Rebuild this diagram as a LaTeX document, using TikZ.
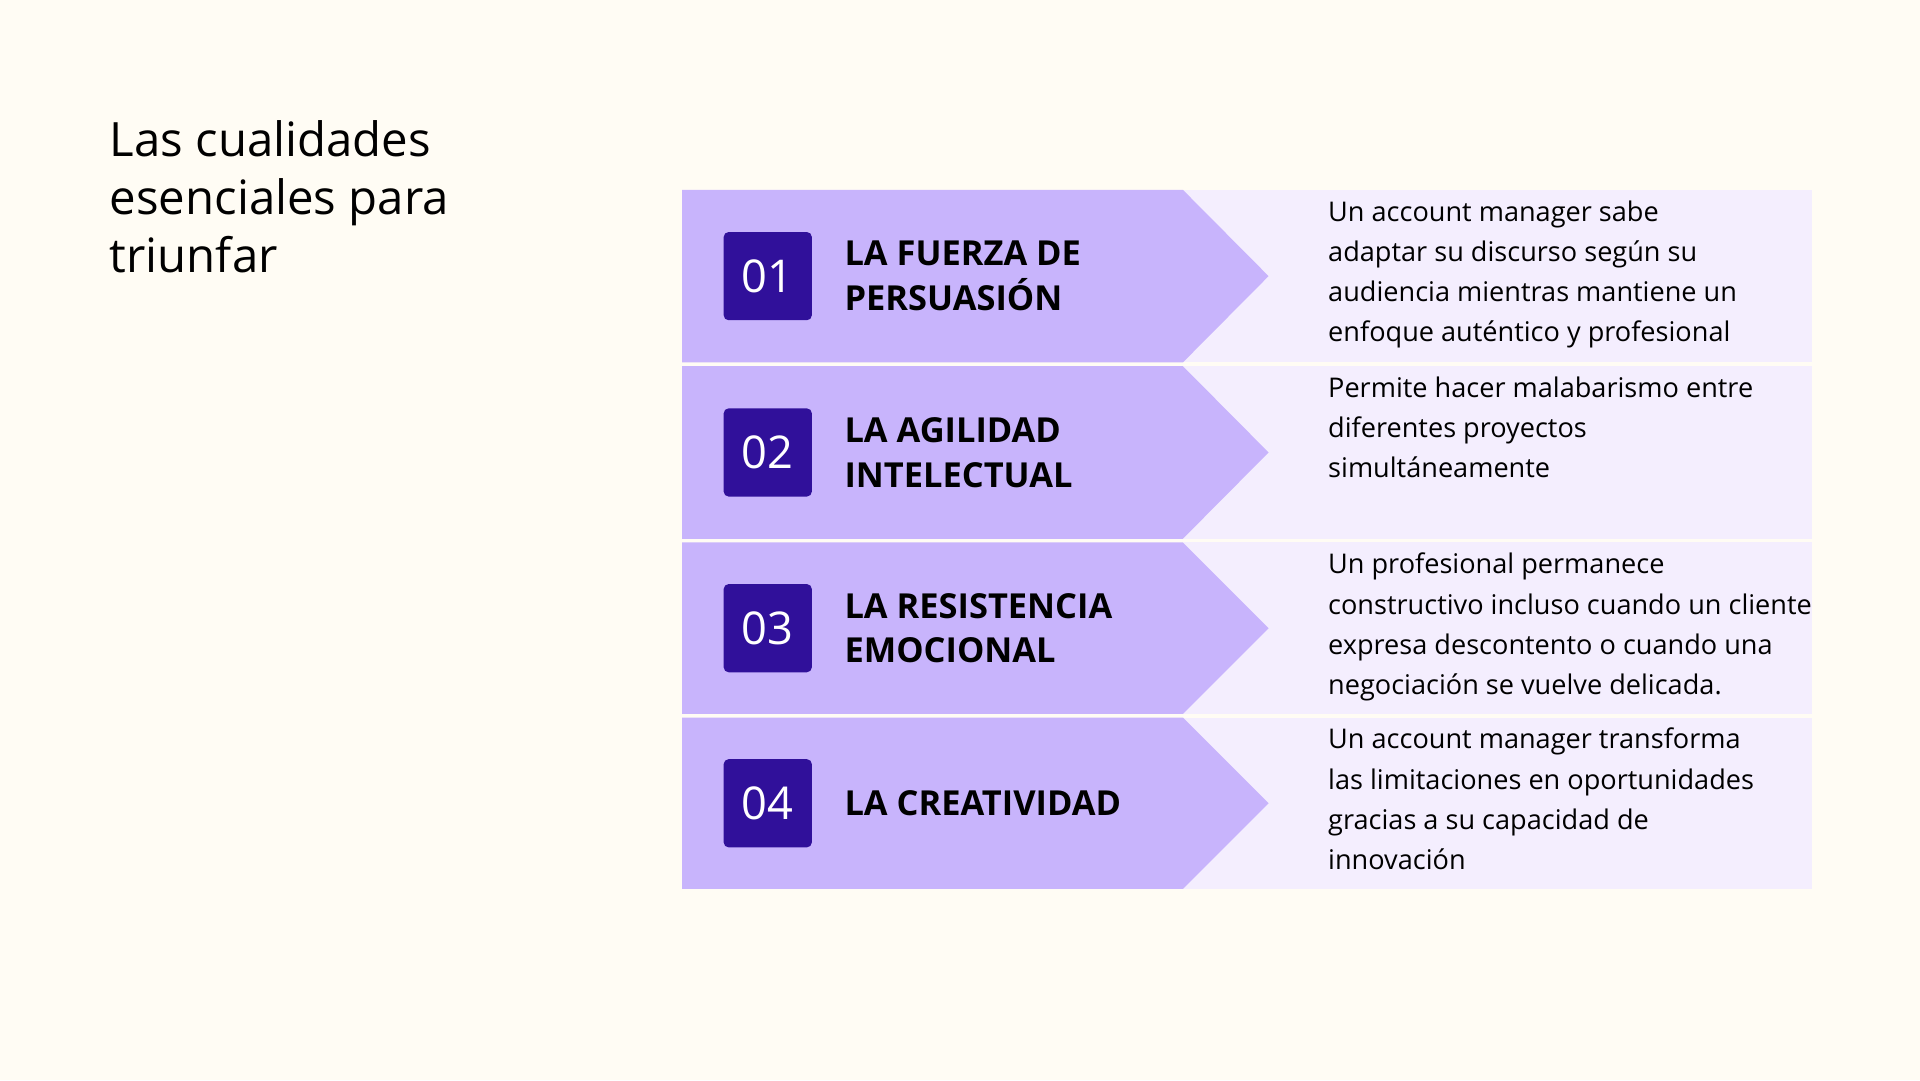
\documentclass[tikz,border=0pt]{standalone}
\usepackage{fontspec}
\setmainfont{Open Sans}
\usetikzlibrary{positioning}
\definecolor{pagebg}{HTML}{FFFCF4}
\definecolor{arrowfill}{HTML}{C8B4FC}
\definecolor{descfill}{HTML}{F4EEFE}
\definecolor{numfill}{HTML}{30109A}
\begin{document}
\begin{tikzpicture}[x=0.1mm,y=-0.1mm,
    numbox/.style={fill=numfill,rounded corners=0.4mm,minimum size=7.2mm,inner sep=0pt,
      text=white,font=\fontsize{10.5}{12}\selectfont},
    headline/.style={anchor=west,align=left,inner sep=0pt,font=\fontsize{8}{10.4}\selectfont\bfseries},
    desctext/.style={anchor=north west,align=left,inner sep=0pt,font=\fontsize{6.3}{9.35}\selectfont}]
  % page
  \fill[pagebg] (0,0) rectangle (1568,882);
  \node[anchor=north west,align=left,inner sep=0pt,font=\fontsize{11}{13.4}\selectfont] (title) at (89,98)
    {Las cualidades\\esenciales para\\triunfar};
  % rows: top, bottom, number, headline, description
  \foreach \i/\top/\bot/\head/\desc in {
    1/155/296/{LA FUERZA DE\\PERSUASIÓN}/{Un account manager sabe\\adaptar su discurso según su\\audiencia mientras mantiene un\\enfoque auténtico y profesional},
    2/299/440/{LA AGILIDAD\\INTELECTUAL}/{Permite hacer malabarismo entre\\diferentes proyectos\\simultáneamente},
    3/443/583/{LA RESISTENCIA\\EMOCIONAL}/{Un profesional permanece\\constructivo incluso cuando un cliente\\expresa descontento o cuando una\\negociación se vuelve delicada.},
    4/586/726/{LA CREATIVIDAD}/{Un account manager transforma\\las limitaciones en oportunidades\\gracias a su capacidad de\\innovación}} {
    \pgfmathsetmacro\mid{(\top+\bot)/2}
    \fill[descfill] (966,\top) rectangle (1480,\bot);
    \fill[arrowfill] (557,\top) -- (966,\top) -- (1036,\mid) -- (966,\bot) -- (557,\bot) -- cycle;
    \node[numbox] (num\i) at (627,\mid) {0\i};
    \node[headline] (head\i) at (689,\mid) {\head};
    \node[desctext] (desc\i) at (1084,\top+8) {\desc};
  }
\end{tikzpicture}
\end{document}
